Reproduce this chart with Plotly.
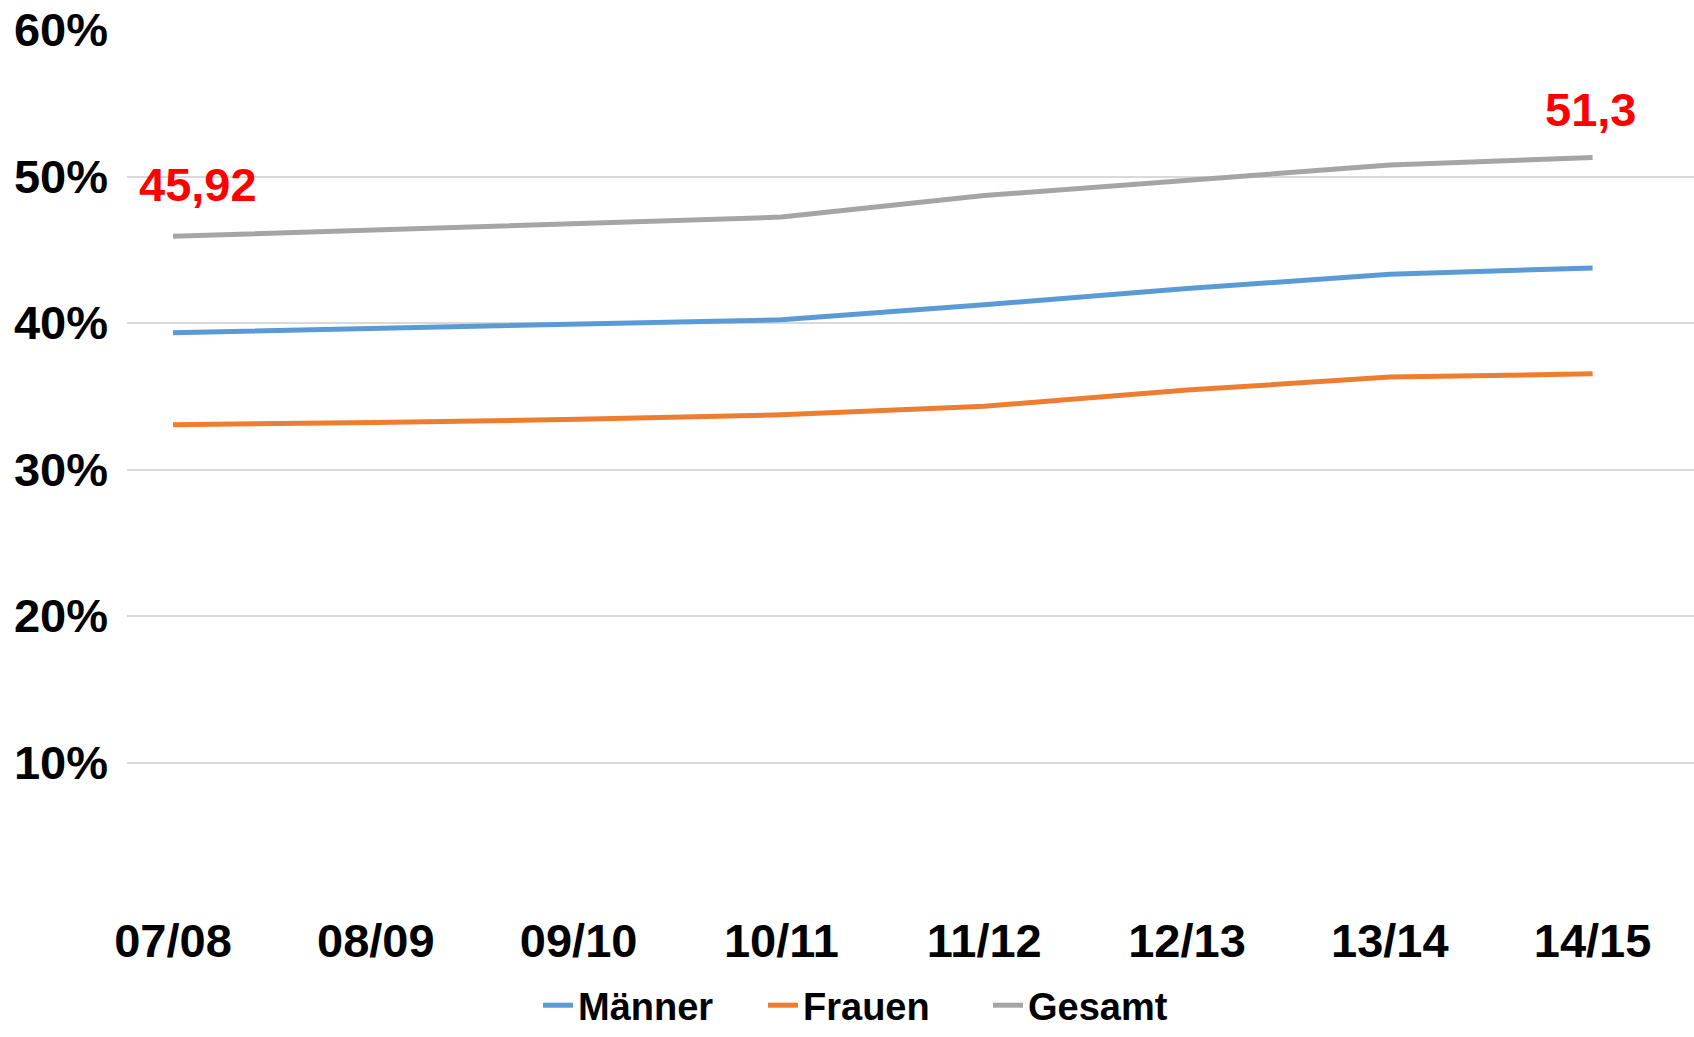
import plotly.graph_objects as go

categories = ["07/08", "08/09", "09/10", "10/11", "11/12", "12/13", "13/14", "14/15"]
maenner = [39.34, 39.63, 39.93, 40.22, 41.25, 42.36, 43.32, 43.76]
frauen = [33.06, 33.20, 33.43, 33.73, 34.32, 35.42, 36.31, 36.53]
gesamt = [45.92, 46.35, 46.86, 47.23, 48.70, 49.74, 50.78, 51.30]
series_names = ["Männer", "Frauen", "Gesamt"]
series_colors = ["#5B9BD5", "#ED7D31", "#A5A5A5"]
y_ticks = [10, 20, 30, 40, 50, 60]
y_tick_labels = ["10%", "20%", "30%", "40%", "50%", "60%"]
label_texts = ["45,92", "51,3"]

W, H = 1694, 1037
fig = go.Figure()
xs = list(range(len(categories)))
for name, vals, col in zip(series_names, [maenner, frauen, gesamt], series_colors):
    fig.add_trace(go.Scatter(
        x=xs, y=vals, name=name, mode="lines",
        line=dict(color=col, width=5),
        hoverinfo="skip",
    ))

fig.add_annotation(x=0, y=gesamt[0], xref="x", yref="y", text=label_texts[0],
                   showarrow=False, xshift=25, yshift=52,
                   font=dict(family="Liberation Sans, Arial", size=47, color="#FF0000", weight="bold"))
fig.add_annotation(x=len(categories) - 1, y=gesamt[-1], xref="x", yref="y", text=label_texts[1],
                   showarrow=False, xshift=-2, yshift=48,
                   font=dict(family="Liberation Sans, Arial", size=47, color="#FF0000", weight="bold"))

fig.update_layout(
    width=W, height=H,
    margin=dict(l=127, r=0, t=30, b=128),
    paper_bgcolor="white", plot_bgcolor="white",
    showlegend=True,
    legend=dict(orientation="h", xref="container", yref="container",
                x=538 / W, xanchor="left", y=-0.006, yanchor="bottom",
                bgcolor="rgba(0,0,0,0)",
                font=dict(family="Liberation Sans Narrow, Liberation Sans, Arial", size=38,
                          color="black", weight="bold"),
                itemwidth=30, entrywidth=180, entrywidthmode="pixels", tracegroupgap=0),
    xaxis=dict(
        range=[-0.227, 7.5],
        tickmode="array", tickvals=xs, ticktext=categories,
        showgrid=False, zeroline=False, showline=False, ticks="",
        tickfont=dict(family="Liberation Sans, Arial", size=47, color="black", weight="bold"),
    ),
    yaxis=dict(
        range=[0, 60],
        tickmode="array", tickvals=y_ticks, ticktext=y_tick_labels,
        showgrid=True, gridcolor="#D9D9D9", gridwidth=2,
        zeroline=False, showline=False, ticks="",
        ticklabelstandoff=18,
        tickfont=dict(family="Liberation Sans, Arial", size=47, color="black", weight="bold"),
    ),
)

fig.write_html("out.html")
